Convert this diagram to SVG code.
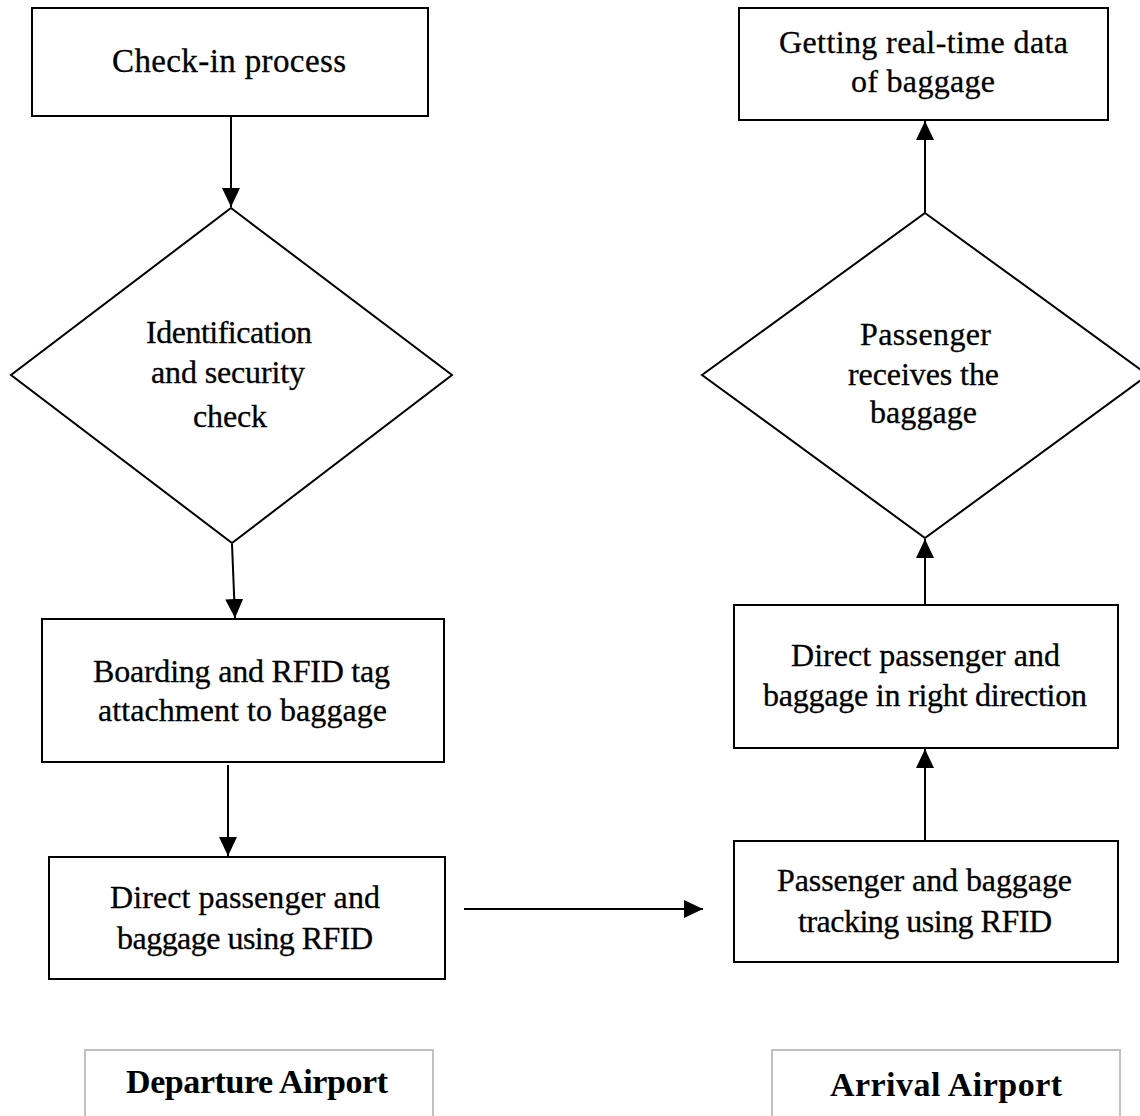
<svg xmlns="http://www.w3.org/2000/svg" width="1140" height="1116" viewBox="0 0 1140 1116">
<defs>
<style>
.box{fill:#fff;stroke:#000;stroke-width:2}
.lbl{fill:#fff;stroke:#c0c0c0;stroke-width:2}
.t{font-family:"Liberation Serif","Times New Roman",serif;font-size:32px;fill:#000;stroke:#000;stroke-width:0.3}
.s33{font-size:33px}
.b{font-family:"Liberation Serif","Times New Roman",serif;font-size:34px;font-weight:bold;fill:#000}
.c{stroke:#000;stroke-width:2;fill:none;marker-end:url(#ah)}
</style>
<marker id="ah" markerUnits="userSpaceOnUse" markerWidth="20" markerHeight="20" refX="19" refY="9" orient="auto">
<path d="M0,0 L19,9 L0,18 z" fill="#000"/>
</marker>
</defs>
<rect width="1140" height="1116" fill="#fff"/>
<g id="connectors">
<line class="c" x1="231" y1="117" x2="231" y2="207"/>
<line class="c" x1="232" y1="544" x2="235" y2="618"/>
<line class="c" x1="228" y1="765" x2="228" y2="856"/>
<line class="c" x1="464" y1="909" x2="703" y2="909"/>
<line class="c" x1="925" y1="841" x2="925" y2="749"/>
<line class="c" x1="925" y1="605" x2="925" y2="539"/>
<line class="c" x1="925" y1="213" x2="925" y2="121"/>
</g>
<g id="checkin">
<rect class="box" x="32" y="8" width="396" height="108"/>
<text class="t s33" x="112" y="72" textLength="234" lengthAdjust="spacing">Check-in process</text>
</g>
<g id="identification">
<polygon class="box" points="231,208 452,375 232,543 11,375"/>
<text class="t" x="146" y="343" textLength="166" lengthAdjust="spacing">Identification</text>
<text class="t" x="151" y="383" textLength="154" lengthAdjust="spacing">and security</text>
<text class="t" x="193" y="427" textLength="74" lengthAdjust="spacing">check</text>
</g>
<g id="boarding">
<rect class="box" x="42" y="619" width="402" height="143"/>
<text class="t" x="93" y="682" textLength="297" lengthAdjust="spacing">Boarding and RFID tag</text>
<text class="t" x="98" y="721" textLength="289" lengthAdjust="spacing">attachment to baggage</text>
</g>
<g id="direct-left">
<rect class="box" x="49" y="857" width="396" height="122"/>
<text class="t" x="110" y="908" textLength="270" lengthAdjust="spacing">Direct passenger and</text>
<text class="t" x="117" y="949" textLength="256" lengthAdjust="spacing">baggage using RFID</text>
</g>
<g id="tracking">
<rect class="box" x="734" y="841" width="384" height="121"/>
<text class="t" x="777" y="891" textLength="295" lengthAdjust="spacing">Passenger and baggage</text>
<text class="t" x="798" y="932" textLength="254" lengthAdjust="spacing">tracking using RFID</text>
</g>
<g id="direct-right">
<rect class="box" x="734" y="605" width="384" height="143"/>
<text class="t" x="791" y="666" textLength="269" lengthAdjust="spacing">Direct passenger and</text>
<text class="t" x="763" y="706" textLength="324" lengthAdjust="spacing">baggage in right direction</text>
</g>
<g id="receives">
<polygon class="box" points="925,213 1148,375 925,538 702,375"/>
<text class="t" x="860" y="345" textLength="131" lengthAdjust="spacing">Passenger</text>
<text class="t" x="848" y="385" textLength="151" lengthAdjust="spacing">receives the</text>
<text class="t" x="870" y="423" textLength="107" lengthAdjust="spacing">baggage</text>
</g>
<g id="realtime">
<rect class="box" x="739" y="8" width="369" height="112"/>
<text class="t" x="779" y="53" textLength="289" lengthAdjust="spacing">Getting real-time data</text>
<text class="t" x="851" y="92" textLength="144" lengthAdjust="spacing">of baggage</text>
</g>
<g id="departure-label">
<rect class="lbl" x="85" y="1050" width="348" height="90"/>
<text class="b" x="126" y="1093" textLength="262" lengthAdjust="spacing">Departure Airport</text>
</g>
<g id="arrival-label">
<rect class="lbl" x="772" y="1050" width="348" height="90"/>
<text class="b" x="830" y="1096" textLength="232" lengthAdjust="spacing">Arrival Airport</text>
</g>
</svg>
